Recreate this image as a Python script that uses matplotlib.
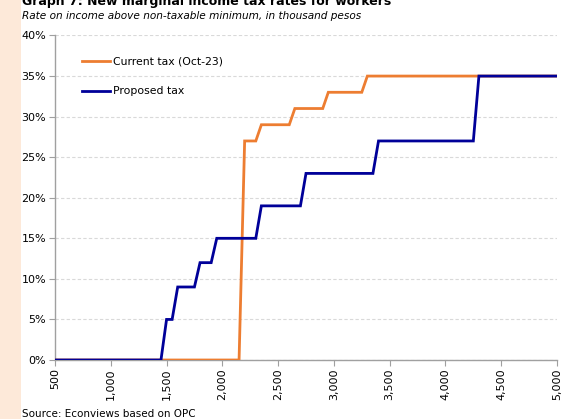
import matplotlib
matplotlib.use("Agg")
import matplotlib.pyplot as plt
from matplotlib.ticker import FuncFormatter

# Income above the non-taxable minimum (thousand pesos) and marginal rates (%)
current_income = [500, 2150, 2200, 2300, 2350, 2600, 2650, 2900, 2950, 3250, 3300, 5000]
current_rate = [0, 0, 27, 27, 29, 29, 31, 31, 33, 33, 35, 35]

proposed_income = [500, 1450, 1500, 1550, 1600, 1750, 1800, 1900, 1950, 2300, 2350,
                   2700, 2750, 3350, 3400, 4250, 4300, 5000]
proposed_rate = [0, 0, 5, 5, 9, 9, 12, 12, 15, 15, 19, 19, 23, 23, 27, 27, 35, 35]

x_ticks = list(range(500, 5001, 500))
y_ticks = list(range(0, 41, 5))

title = "Graph 7: New marginal income tax rates for workers"
subtitle = "Rate on income above non-taxable minimum, in thousand pesos"
source = "Source: Econviews based on OPC"

W, H = 561, 419
fig = plt.figure(figsize=(W / 100, H / 100), dpi=100)
fig.patch.set_facecolor("white")

# peach strip along the left edge
fig.patches.append(plt.Rectangle((0, 0), 21 / W, 1, transform=fig.transFigure,
                                 facecolor="#FDE9D9", edgecolor="none", zorder=0))

ax = fig.add_axes([55 / W, 1 - 360 / H, (557 - 55) / W, (360 - 35.5) / H])

ax.plot(current_income, current_rate, color="#ED7D31", lw=2.0,
        label="Current tax (Oct-23)", solid_joinstyle="miter", zorder=3)
ax.plot(proposed_income, proposed_rate, color="#000099", lw=2.0,
        label="Proposed tax", solid_joinstyle="miter", zorder=4)

ax.set_xlim(500, 5000)
ax.set_ylim(0, 40)
ax.set_xticks(x_ticks)
ax.xaxis.set_major_formatter(FuncFormatter(lambda v, p: f"{int(v):,}"))
ax.set_yticks(y_ticks)
ax.yaxis.set_major_formatter(FuncFormatter(lambda v, p: f"{int(v)}%"))

for t in ax.get_xticklabels():
    t.set_rotation(90)

ax.tick_params(axis="both", labelsize=8, colors="#000000", length=4,
               width=0.8, direction="out")
ax.tick_params(axis="both", color="#A0A0A0")
ax.tick_params(axis="y", pad=2.5)
ax.tick_params(axis="x", pad=2)

ax.grid(axis="y", color="#D9D9D9", linestyle=(0, (3, 2)), linewidth=0.8)
ax.set_axisbelow(True)
for side in ("top", "right"):
    ax.spines[side].set_visible(False)
for side in ("left", "bottom"):
    ax.spines[side].set_color("#A0A0A0")
    ax.spines[side].set_linewidth(1.0)

leg = ax.legend(loc="upper left", bbox_to_anchor=(82 / W, 1 - 57 / H),
                bbox_transform=fig.transFigure, frameon=False, fontsize=7.8,
                handlelength=2.6, handletextpad=0.3, labelspacing=1.8,
                borderpad=0, borderaxespad=0)

fig.text(22 / W, 1 - 5 / H, title, fontsize=9, fontweight="bold",
         va="baseline", ha="left")
fig.text(22 / W, 1 - 19 / H, subtitle, fontsize=7.6, style="italic",
         va="baseline", ha="left")
fig.text(22 / W, 1 - 417 / H, source, fontsize=7.5, va="baseline", ha="left")

fig.savefig("out.png", dpi=100)
